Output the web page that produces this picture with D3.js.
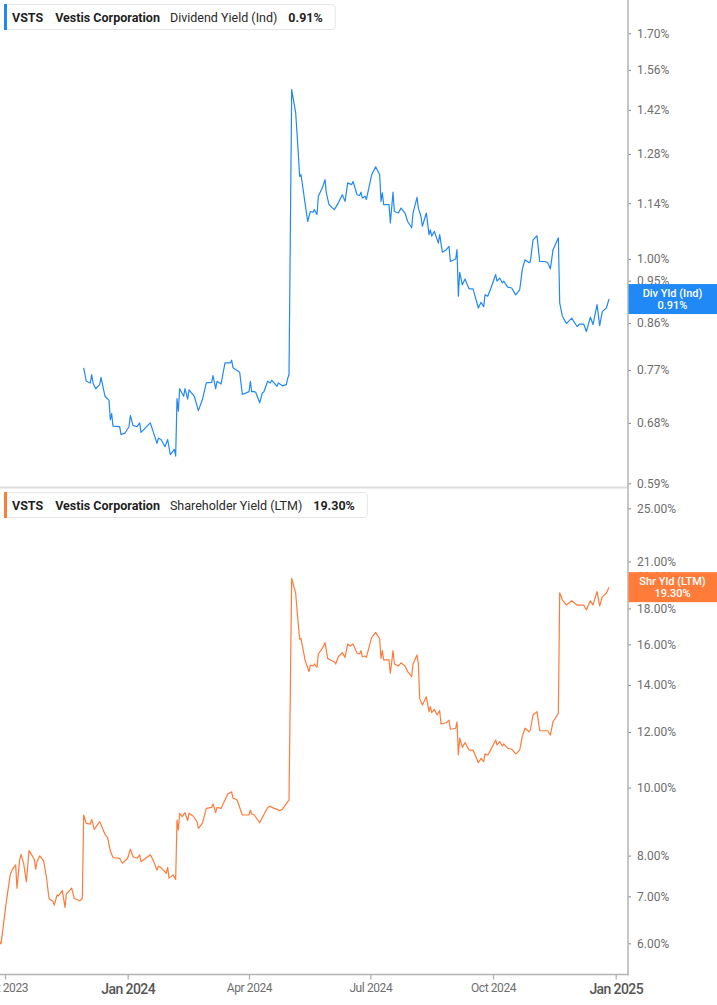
<!DOCTYPE html>
<html><head><meta charset="utf-8">
<script src="https://cdn.jsdelivr.net/npm/d3@7"></script>
<style>
html,body{margin:0;padding:0;background:#fff;}
svg{display:block;font-family:Roboto, "Noto Sans", sans-serif;}
</style></head>
<body>
<svg id="c" width="717" height="1005"></svg>
<script>
// ---------------- DATA ----------------
const divDates = ["2023-11-29","2023-12-01","2023-12-04","2023-12-05","2023-12-06","2023-12-08","2023-12-11","2023-12-12","2023-12-15","2023-12-18","2023-12-19","2023-12-20","2023-12-21","2023-12-26","2023-12-27","2023-12-30","2024-01-02","2024-01-03","2024-01-05","2024-01-08","2024-01-10","2024-01-11","2024-01-18","2024-01-20","2024-01-23","2024-01-24","2024-01-26","2024-01-29","2024-01-31","2024-02-02","2024-02-05","2024-02-06","2024-02-07","2024-02-08","2024-02-09","2024-02-12","2024-02-13","2024-02-15","2024-02-16","2024-02-20","2024-02-23","2024-02-26","2024-02-29","2024-03-04","2024-03-05","2024-03-07","2024-03-08","2024-03-11","2024-03-14","2024-03-18","2024-03-19","2024-03-20","2024-03-25","2024-03-27","2024-04-01","2024-04-02","2024-04-03","2024-04-05","2024-04-06","2024-04-09","2024-04-11","2024-04-12","2024-04-15","2024-04-17","2024-04-18","2024-04-22","2024-04-23","2024-04-26","2024-04-29","2024-04-30","2024-05-01","2024-05-03","2024-05-06","2024-05-07","2024-05-09","2024-05-10","2024-05-13","2024-05-15","2024-05-17","2024-05-19","2024-05-20","2024-05-22","2024-05-23","2024-05-26","2024-05-28","2024-05-29","2024-05-31","2024-06-04","2024-06-07","2024-06-10","2024-06-12","2024-06-14","2024-06-17","2024-06-18","2024-06-21","2024-06-23","2024-06-24","2024-06-25","2024-06-27","2024-06-28","2024-07-02","2024-07-05","2024-07-08","2024-07-09","2024-07-10","2024-07-11","2024-07-15","2024-07-16","2024-07-18","2024-07-19","2024-07-22","2024-07-24","2024-07-27","2024-07-29","2024-08-01","2024-08-02","2024-08-05","2024-08-06","2024-08-08","2024-08-09","2024-08-12","2024-08-14","2024-08-15","2024-08-16","2024-08-18","2024-08-21","2024-08-22","2024-08-24","2024-08-27","2024-08-29","2024-08-30","2024-09-03","2024-09-04","2024-09-05","2024-09-06","2024-09-08","2024-09-10","2024-09-13","2024-09-16","2024-09-20","2024-09-22","2024-09-24","2024-09-25","2024-09-27","2024-09-29","2024-10-03","2024-10-04","2024-10-06","2024-10-08","2024-10-09","2024-10-12","2024-10-15","2024-10-18","2024-10-21","2024-10-23","2024-10-25","2024-10-28","2024-10-29","2024-10-31","2024-11-03","2024-11-05","2024-11-09","2024-11-11","2024-11-13","2024-11-15","2024-11-19","2024-11-20","2024-11-22","2024-11-25","2024-11-29","2024-12-03","2024-12-05","2024-12-08","2024-12-10","2024-12-13","2024-12-15","2024-12-18","2024-12-20","2024-12-22","2024-12-25","2024-12-27"];
const divValues = [0.774,0.750,0.747,0.762,0.747,0.737,0.744,0.757,0.724,0.717,0.685,0.695,0.675,0.674,0.662,0.664,0.674,0.692,0.676,0.674,0.680,0.665,0.680,0.667,0.648,0.656,0.654,0.643,0.654,0.631,0.639,0.629,0.720,0.699,0.737,0.724,0.737,0.719,0.735,0.724,0.700,0.718,0.747,0.748,0.760,0.737,0.750,0.745,0.783,0.783,0.788,0.774,0.766,0.727,0.732,0.750,0.732,0.732,0.731,0.713,0.730,0.731,0.750,0.747,0.752,0.741,0.747,0.742,0.744,0.755,0.762,1.489,1.410,1.345,1.214,1.219,1.141,1.092,1.118,1.116,1.123,1.110,1.159,1.182,1.205,1.168,1.136,1.123,1.141,1.163,1.145,1.196,1.191,1.200,1.163,1.161,1.170,1.154,1.159,1.150,1.219,1.242,1.219,1.145,1.168,1.136,1.136,1.088,1.170,1.118,1.114,1.127,1.114,1.092,1.076,1.114,1.156,1.127,1.105,1.080,1.114,1.059,1.071,1.055,1.067,1.038,1.059,1.016,1.022,1.030,0.994,1.000,1.022,0.916,0.969,0.941,0.954,0.932,0.932,0.891,0.903,0.894,0.919,0.916,0.930,0.964,0.949,0.956,0.945,0.949,0.936,0.934,0.919,0.930,0.977,0.998,0.991,0.994,1.046,1.056,0.994,0.994,0.991,0.977,1.022,1.051,0.902,0.874,0.859,0.870,0.853,0.858,0.858,0.843,0.872,0.857,0.898,0.855,0.884,0.891,0.910];

const shrDates = ["2023-09-27","2023-09-28","2023-09-30","2023-10-02","2023-10-05","2023-10-07","2023-10-09","2023-10-10","2023-10-12","2023-10-13","2023-10-15","2023-10-17","2023-10-19","2023-10-21","2023-10-23","2023-10-24","2023-10-25","2023-10-27","2023-10-30","2023-11-01","2023-11-03","2023-11-06","2023-11-07","2023-11-09","2023-11-10","2023-11-13","2023-11-15","2023-11-16","2023-11-20","2023-11-22","2023-11-26","2023-11-28","2023-11-29","2023-12-01","2023-12-04","2023-12-05","2023-12-07","2023-12-11","2023-12-15","2023-12-17","2023-12-19","2023-12-21","2023-12-26","2023-12-28","2024-01-01","2024-01-03","2024-01-05","2024-01-08","2024-01-10","2024-01-11","2024-01-18","2024-01-20","2024-01-23","2024-01-24","2024-01-26","2024-01-30","2024-01-31","2024-02-01","2024-02-04","2024-02-06","2024-02-07","2024-02-08","2024-02-09","2024-02-11","2024-02-13","2024-02-15","2024-02-16","2024-02-19","2024-02-22","2024-02-23","2024-02-26","2024-02-29","2024-03-04","2024-03-05","2024-03-07","2024-03-08","2024-03-11","2024-03-14","2024-03-16","2024-03-19","2024-03-20","2024-03-23","2024-03-27","2024-04-01","2024-04-02","2024-04-03","2024-04-05","2024-04-09","2024-04-12","2024-04-15","2024-04-17","2024-04-18","2024-04-22","2024-04-24","2024-04-26","2024-04-30","2024-05-01","2024-05-03","2024-05-06","2024-05-07","2024-05-09","2024-05-10","2024-05-13","2024-05-16","2024-05-17","2024-05-19","2024-05-20","2024-05-22","2024-05-23","2024-05-26","2024-05-28","2024-05-30","2024-06-02","2024-06-04","2024-06-05","2024-06-07","2024-06-10","2024-06-12","2024-06-14","2024-06-16","2024-06-18","2024-06-21","2024-06-23","2024-06-24","2024-06-25","2024-06-27","2024-06-28","2024-07-02","2024-07-05","2024-07-08","2024-07-09","2024-07-10","2024-07-11","2024-07-15","2024-07-16","2024-07-18","2024-07-19","2024-07-22","2024-07-24","2024-07-27","2024-07-29","2024-08-01","2024-08-02","2024-08-05","2024-08-06","2024-08-07","2024-08-09","2024-08-12","2024-08-14","2024-08-15","2024-08-16","2024-08-18","2024-08-20","2024-08-22","2024-08-23","2024-08-27","2024-08-29","2024-08-30","2024-09-03","2024-09-04","2024-09-05","2024-09-06","2024-09-08","2024-09-10","2024-09-13","2024-09-16","2024-09-20","2024-09-22","2024-09-24","2024-09-25","2024-09-27","2024-09-29","2024-10-03","2024-10-04","2024-10-06","2024-10-08","2024-10-09","2024-10-12","2024-10-15","2024-10-18","2024-10-21","2024-10-23","2024-10-25","2024-10-28","2024-10-29","2024-10-31","2024-11-03","2024-11-05","2024-11-09","2024-11-11","2024-11-13","2024-11-15","2024-11-19","2024-11-20","2024-11-22","2024-11-25","2024-11-29","2024-12-03","2024-12-05","2024-12-08","2024-12-10","2024-12-13","2024-12-15","2024-12-18","2024-12-20","2024-12-22","2024-12-25","2024-12-27"];
const shrValues = [6.03,5.99,6.41,6.88,7.53,7.67,7.76,7.19,7.89,8.03,7.80,7.34,8.13,8.02,7.90,7.65,7.84,7.99,7.86,7.47,6.95,6.88,6.80,7.03,7.01,7.13,6.75,7.05,7.19,6.95,6.90,6.95,9.14,8.89,8.87,9.01,8.72,8.94,8.58,8.48,8.12,7.95,7.93,7.80,7.93,8.17,7.97,7.93,8.02,7.84,8.02,7.89,7.63,7.73,7.69,7.55,7.70,7.43,7.51,7.40,8.99,8.70,9.19,9.09,9.21,8.97,9.19,9.11,8.94,8.75,8.89,9.34,9.37,9.48,9.21,9.37,9.34,9.60,9.79,9.86,9.66,9.60,9.14,9.14,9.29,9.17,9.14,8.91,9.14,9.37,9.41,9.37,9.31,9.27,9.31,9.55,9.60,19.87,18.92,17.91,16.27,16.30,15.20,14.63,14.95,14.90,15.00,14.84,15.50,15.79,16.09,15.28,15.16,15.11,15.00,15.36,15.57,15.33,16.02,15.91,16.02,15.54,15.50,15.67,15.36,15.40,15.33,16.37,16.64,16.28,15.28,15.67,15.20,15.20,14.55,15.67,15.00,14.90,15.06,14.90,14.63,14.39,15.00,15.45,15.03,13.40,13.11,13.47,12.83,13.04,12.79,12.93,12.69,12.87,12.32,12.37,12.48,12.11,12.15,12.41,11.13,11.76,11.41,11.59,11.31,11.31,10.85,11.01,10.89,11.17,11.13,11.29,11.69,11.50,11.63,11.46,11.54,11.38,11.34,11.17,11.31,11.84,12.15,12.01,12.08,12.69,12.83,12.05,12.05,12.05,11.88,12.41,12.76,18.95,18.51,18.20,18.46,18.20,18.20,18.20,17.91,18.46,18.20,19.02,18.15,18.71,18.92,19.30];

const divTicks = [0.59,0.68,0.77,0.86,0.95,1.00,1.14,1.28,1.42,1.56,1.70];
const shrTicks = [6,7,8,10,12,14,16,18,20,21,25];
const xTickDates = ["2023-10-01","2024-01-01","2024-04-01","2024-07-01","2024-10-01","2025-01-01"];
const xTickLabels = ["Oct 2023","Jan 2024","Apr 2024","Jul 2024","Oct 2024","Jan 2025"];

const ticker = "VSTS", company = "Vestis Corporation";
const divName = "Dividend Yield (Ind)", divShort = "Div Yld (Ind)", divLast = "0.91%";
const shrName = "Shareholder Yield (LTM)", shrShort = "Shr Yld (LTM)", shrLast = "19.30%";

// ---------------- CHART ----------------
const parse = d3.timeParse("%Y-%m-%d");
const svg = d3.select("#c");
const BLUE = "#2189f5", ORANGE = "#ff7b3a";
const axisX = 628, bottomY = 974.5;

const x = d3.scaleTime()
  .domain([parse("2023-10-01"), parse("2025-01-01")])
  .range([5, 615.7]);
const yTop = d3.scaleLog().domain([0.59, 1.70]).range([483.3, 33.3]);
const yBot = d3.scaleLog().domain([6, 25]).range([943.3, 508.3]);

const divData = divDates.map((d,i)=>({date:parse(d), v:divValues[i]}));
const shrData = shrDates.map((d,i)=>({date:parse(d), v:shrValues[i]}));

// panel separator
svg.append("line").attr("x1",0).attr("x2",axisX).attr("y1",487.5).attr("y2",487.5)
  .attr("stroke","#dcdcdc").attr("stroke-width",2);

// lines
svg.append("path").datum(divData)
  .attr("fill","none").attr("stroke",BLUE).attr("stroke-width",1.2).attr("stroke-linejoin","round")
  .attr("d", d3.line().x(d=>x(d.date)).y(d=>yTop(d.v)));
svg.append("path").datum(shrData)
  .attr("fill","none").attr("stroke",ORANGE).attr("stroke-width",1.2).attr("stroke-linejoin","round")
  .attr("d", d3.line().x(d=>x(d.date)).y(d=>yBot(d.v)));

// right axes
function styleY(g){
  g.select(".domain").remove();
  g.selectAll(".tick line").attr("stroke","#888").attr("stroke-width",1);
  g.selectAll(".tick text").attr("fill","#6e6e6e").style("font-size","12px").style("font-family","Roboto, sans-serif");
}
svg.append("g").attr("transform",`translate(${axisX},0)`)
  .call(d3.axisRight(yTop).tickValues(divTicks).tickSize(3).tickPadding(6).tickFormat(d=>d.toFixed(2)+"%"))
  .call(styleY);
svg.append("g").attr("transform",`translate(${axisX},0)`)
  .call(d3.axisRight(yBot).tickValues(shrTicks).tickSize(3).tickPadding(6).tickFormat(d=>d.toFixed(2)+"%"))
  .call(styleY);

// x axis
const xg = svg.append("g").attr("transform",`translate(0,${bottomY})`)
  .call(d3.axisBottom(x).tickValues(xTickDates.map(parse)).tickSize(5).tickPadding(6)
    .tickFormat((d,i)=>xTickLabels[i]));
xg.select(".domain").remove();
xg.selectAll(".tick line").attr("stroke","#aaa").attr("stroke-width",1.2);
xg.selectAll(".tick text").each(function(d,i){
  const t = d3.select(this);
  const major = xTickLabels[i].startsWith("Jan");
  t.attr("fill", major ? "#555" : "#6e6e6e")
   .style("font-family","Roboto, sans-serif")
   .style("font-size", major ? "14px" : "12px")
   .style("font-weight", major ? "500" : "400")
   .style("letter-spacing", major ? "-0.6px" : "-0.4px")
   .attr("y", major ? 10 : 9);
});

// axis lines
svg.append("line").attr("x1",0).attr("x2",axisX+1).attr("y1",bottomY).attr("y2",bottomY)
  .attr("stroke","#b4b4b4").attr("stroke-width",1.5);
svg.append("line").attr("x1",axisX).attr("x2",axisX).attr("y1",0).attr("y2",bottomY+0.75)
  .attr("stroke","#b4b4b4").attr("stroke-width",1.5);

// value labels on the axis
function valueLabel(yPos, color, l1, l2){
  const g = svg.append("g");
  g.append("rect").attr("x",axisX+0.5).attr("y",yPos-15).attr("width",717-axisX).attr("height",30).attr("fill",color);
  const cx = axisX + (717-axisX)/2;
  g.append("text").attr("x",cx).attr("y",yPos-2.5).attr("text-anchor","middle").attr("fill","#fff")
    .style("font-size","11px").style("font-weight","500").text(l1);
  g.append("text").attr("x",cx).attr("y",yPos+9.5).attr("text-anchor","middle").attr("fill","#fff")
    .style("font-size","11px").style("font-weight","500").text(l2);
}
valueLabel(yTop(divValues[divValues.length-1]), BLUE, divShort, divLast);
valueLabel(yBot(shrValues[shrValues.length-1]), ORANGE, shrShort, shrLast);

// legends
function legend(y0, color, metric, last){
  const g = svg.append("g").attr("transform",`translate(4,${y0})`);
  const rect = g.append("rect").attr("x",0.5).attr("y",0.5).attr("height",25).attr("rx",3)
    .attr("fill","#fff").attr("stroke","#e6e6e6");
  g.append("rect").attr("x",0).attr("y",0).attr("width",3).attr("height",26).attr("fill",color);
  const parts = [
    {t:ticker, w:"700", c:"#1f1f1f", gap:12},
    {t:company, w:"700", c:"#1f1f1f", gap:10},
    {t:metric, w:"400", c:"#2a2a2a", gap:11},
    {t:last, w:"700", c:"#1f1f1f", gap:0}
  ];
  let cx = 8;
  parts.forEach(p=>{
    const t = g.append("text").attr("x",cx).attr("y",17.5).attr("fill",p.c)
      .style("font-family","Roboto, sans-serif").style("font-size","12.5px").style("font-weight",p.w).text(p.t);
    cx += t.node().getComputedTextLength() + p.gap;
  });
  rect.attr("width", cx + 12);
}
legend(4, BLUE, divName, divLast);
legend(492, ORANGE, shrName, shrLast);
</script>
</body></html>
